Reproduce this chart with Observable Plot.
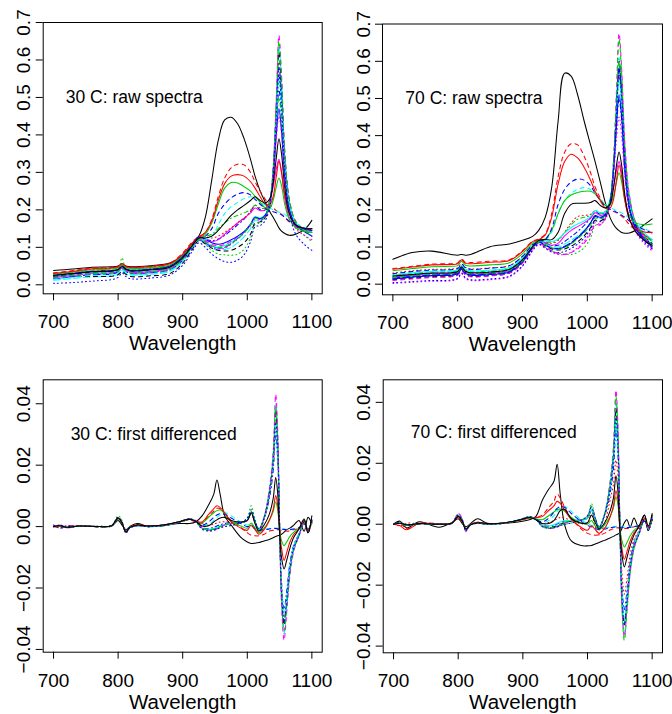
<!DOCTYPE html>
<html><head><meta charset="utf-8">
<script src="https://cdn.jsdelivr.net/npm/d3@7"></script>
<script src="https://cdn.jsdelivr.net/npm/@observablehq/plot@0.6"></script>
<style>
body{margin:0;background:#fff;}
#wrap{position:relative;width:672px;height:714px;background:#fff;font-family:"Liberation Sans",Arial,sans-serif;}
.panel{position:absolute;width:336px;height:357px;}
</style></head><body><div id="wrap"></div>
<script>
// ---------- shared axes / categories ----------
const xTicks = [700, 800, 900, 1000, 1100];
const yTicksRaw = [0, 0.1, 0.2, 0.3, 0.4, 0.5, 0.6, 0.7];
const yTicksDiff = [-0.04, -0.02, 0, 0.02, 0.04];
const panelNotes = ["30 C: raw spectra", "70 C: raw spectra", "30 C: first differenced", "70 C: first differenced"];
const noteWl = [825, 825, 855, 855];
const noteVal = [0.5, 0.5, 0.03, 0.03];

// wavelengths at which raw spectra were read
const wlRaw = [700,730,760,790,800,806,812,820,850,880,900,915,925,935,945,955,965,975,985,995,1005,1012,1020,1028,1035,1040,1045,1049,1053,1058,1065,1075,1090,1100];
// wavelengths at which differenced spectra were read
const wlDiff = [700,710,720,740,770,790,800,806,812,818,830,845,870,895,910,920,930,940,948,953,958,965,975,990,1000,1006,1012,1018,1026,1034,1040,1044,1047,1050,1053,1057,1061,1066,1072,1080,1088,1094,1100];

// ---------- 30 C raw spectra (sample number, values) ----------
const raw30Ids = [1,2,3,4,5,6,7,8,9,10,11,12,16,17,18,21,22,26,27,28,31];
const raw30 = [
[.038,.042,.047,.048,.050,.056,.050,.048,.051,.058,.080,.110,.130,.180,.280,.385,.440,.447,.430,.390,.335,.290,.250,.220,.195,.180,.165,.152,.143,.137,.132,.135,.150,.172],
[.032,.038,.045,.046,.048,.055,.048,.046,.050,.058,.085,.115,.128,.140,.175,.235,.285,.312,.322,.320,.300,.275,.250,.228,.212,.205,.198,.193,.188,.180,.168,.158,.150,.148],
[.020,.025,.030,.032,.038,.072,.042,.034,.036,.044,.070,.104,.122,.108,.092,.082,.080,.079,.082,.095,.125,.160,.165,.180,.218,.295,.460,.600,.510,.330,.215,.155,.130,.115],
[.024,.030,.035,.037,.041,.050,.042,.038,.041,.049,.075,.108,.126,.122,.118,.122,.132,.145,.160,.175,.195,.212,.200,.200,.228,.290,.420,.520,.450,.300,.205,.160,.145,.140],
[.012,.017,.021,.024,.028,.038,.030,.026,.028,.036,.062,.098,.118,.110,.098,.092,.094,.100,.112,.128,.150,.172,.170,.182,.222,.305,.480,.640,.545,.350,.225,.165,.140,.130],
[.020,.026,.031,.033,.037,.046,.038,.033,.036,.044,.070,.104,.124,.118,.115,.120,.135,.150,.165,.178,.192,.205,.198,.200,.225,.260,.310,.335,.300,.230,.180,.155,.145,.140],
[.022,.022,.022,.023,.027,.036,.028,.022,.024,.030,.058,.095,.118,.110,.098,.092,.090,.092,.100,.112,.135,.165,.168,.180,.220,.300,.470,.620,.530,.345,.225,.165,.142,.130],
[.030,.036,.042,.044,.047,.056,.048,.045,.048,.056,.080,.110,.128,.128,.125,.130,.140,.152,.165,.178,.195,.212,.205,.205,.228,.300,.450,.560,.490,.320,.210,.160,.145,.140],
[.026,.032,.037,.039,.042,.051,.044,.040,.043,.051,.077,.110,.127,.130,.135,.150,.165,.178,.185,.192,.200,.212,.205,.205,.225,.285,.410,.500,.440,.300,.210,.160,.145,.140],
[.016,.022,.027,.029,.034,.043,.035,.030,.032,.040,.066,.100,.120,.112,.102,.098,.100,.110,.124,.140,.162,.180,.175,.185,.222,.300,.470,.580,.500,.330,.215,.160,.140,.130],
[.022,.028,.033,.035,.039,.048,.040,.036,.039,.046,.072,.106,.124,.114,.104,.100,.105,.114,.126,.140,.162,.182,.178,.188,.225,.300,.450,.550,.480,.320,.215,.163,.145,.140],
[.018,.024,.029,.031,.035,.044,.037,.032,.034,.042,.068,.102,.122,.116,.108,.104,.108,.116,.128,.142,.162,.180,.175,.185,.225,.310,.500,.665,.560,.360,.230,.170,.145,.135],
[.026,.031,.036,.038,.041,.050,.043,.039,.042,.050,.076,.110,.128,.122,.112,.108,.112,.120,.130,.142,.160,.180,.176,.186,.222,.285,.400,.470,.410,.285,.200,.160,.148,.145],
[.015,.020,.025,.028,.032,.042,.034,.028,.030,.038,.065,.100,.120,.120,.130,.160,.190,.208,.220,.230,.235,.232,.222,.212,.205,.200,.196,.194,.192,.188,.178,.165,.152,.148],
[.020,.026,.030,.032,.036,.046,.037,.032,.034,.042,.068,.102,.120,.112,.100,.095,.098,.108,.122,.138,.158,.176,.172,.180,.215,.280,.390,.450,.400,.280,.195,.150,.130,.120],
[.028,.034,.040,.042,.045,.053,.046,.043,.046,.053,.078,.108,.122,.135,.165,.215,.258,.273,.272,.262,.250,.236,.220,.205,.205,.225,.262,.285,.265,.215,.175,.152,.142,.140],
[.022,.028,.034,.036,.040,.050,.042,.037,.040,.048,.075,.108,.125,.130,.150,.190,.215,.232,.242,.246,.240,.228,.215,.203,.198,.195,.192,.190,.187,.180,.170,.160,.150,.145],
[.030,.036,.043,.045,.048,.056,.049,.046,.049,.056,.082,.112,.126,.140,.170,.225,.270,.290,.294,.290,.275,.258,.235,.215,.215,.235,.290,.330,.300,.240,.190,.160,.150,.150],
[.020,.026,.030,.032,.037,.048,.038,.033,.035,.043,.069,.103,.122,.114,.104,.100,.102,.110,.122,.138,.160,.178,.174,.184,.224,.310,.495,.650,.550,.355,.228,.168,.143,.133],
[.004,.006,.010,.014,.020,.032,.022,.016,.018,.026,.052,.090,.112,.100,.082,.070,.062,.060,.066,.080,.115,.155,.158,.172,.210,.290,.450,.560,.480,.310,.195,.135,.105,.092],
[.025,.030,.035,.037,.040,.048,.041,.037,.040,.047,.072,.105,.125,.125,.130,.145,.165,.185,.200,.212,.225,.235,.225,.218,.230,.270,.340,.390,.350,.260,.190,.160,.150,.150]
];

// ---------- 70 C raw spectra ----------
const raw70Ids = [1,2,3,4,5,6,7,8,9,10,11,12,16,17,18,21,22,26,27,28,31];
const raw70 = [
[.067,.085,.089,.080,.078,.080,.078,.080,.101,.108,.118,.128,.145,.180,.260,.440,.568,.560,.510,.440,.375,.330,.275,.218,.180,.162,.150,.144,.139,.137,.138,.145,.163,.176],
[.042,.048,.054,.055,.057,.068,.058,.058,.062,.066,.090,.115,.122,.135,.190,.290,.355,.378,.375,.345,.300,.262,.232,.210,.200,.196,.192,.188,.183,.175,.160,.145,.130,.125],
[.014,.018,.022,.023,.027,.040,.028,.023,.025,.032,.060,.097,.112,.100,.090,.084,.081,.080,.086,.098,.125,.158,.160,.178,.220,.305,.460,.580,.505,.335,.215,.155,.120,.100],
[.020,.025,.029,.030,.033,.045,.034,.030,.032,.039,.064,.100,.116,.110,.104,.105,.115,.128,.142,.158,.178,.195,.188,.192,.222,.290,.420,.500,.440,.300,.200,.150,.120,.108],
[.016,.021,.025,.026,.030,.042,.031,.026,.028,.035,.062,.098,.114,.108,.102,.100,.108,.118,.130,.145,.165,.182,.178,.188,.225,.310,.480,.610,.530,.350,.225,.165,.130,.115],
[.018,.024,.028,.029,.032,.044,.033,.028,.030,.037,.062,.098,.115,.112,.105,.110,.130,.145,.155,.165,.178,.192,.185,.190,.215,.255,.305,.330,.300,.230,.175,.145,.130,.120],
[.012,.016,.020,.021,.025,.037,.026,.021,.023,.030,.058,.096,.112,.104,.095,.092,.095,.102,.114,.130,.152,.172,.170,.182,.222,.305,.470,.600,.520,.340,.220,.160,.125,.110],
[.030,.036,.040,.041,.044,.055,.045,.041,.044,.050,.075,.106,.118,.114,.110,.118,.140,.165,.182,.185,.188,.198,.192,.196,.228,.300,.455,.560,.490,.320,.210,.160,.130,.118],
[.024,.029,.033,.034,.037,.048,.038,.034,.036,.043,.068,.102,.116,.114,.112,.120,.138,.160,.175,.180,.185,.198,.190,.195,.228,.305,.470,.600,.520,.340,.220,.162,.130,.115],
[.016,.021,.025,.026,.030,.042,.031,.026,.028,.035,.062,.098,.114,.106,.098,.096,.102,.112,.126,.142,.164,.182,.178,.186,.222,.305,.465,.580,.505,.335,.215,.155,.120,.105],
[.026,.031,.035,.036,.039,.050,.040,.036,.038,.045,.070,.104,.118,.116,.115,.122,.138,.152,.162,.170,.182,.198,.192,.196,.228,.300,.450,.550,.480,.320,.215,.165,.135,.120],
[.010,.014,.018,.020,.024,.036,.025,.020,.022,.030,.058,.095,.112,.100,.090,.082,.080,.085,.095,.110,.135,.160,.160,.178,.220,.320,.520,.675,.580,.380,.240,.165,.120,.095],
[.014,.019,.023,.024,.028,.040,.029,.024,.026,.033,.060,.097,.113,.105,.097,.095,.100,.110,.125,.142,.165,.185,.180,.188,.222,.295,.430,.510,.450,.305,.205,.150,.115,.100],
[.022,.028,.032,.034,.037,.049,.039,.035,.037,.044,.070,.102,.114,.118,.140,.190,.225,.245,.255,.260,.255,.243,.228,.215,.207,.202,.198,.195,.192,.187,.177,.163,.148,.140],
[.002,.005,.008,.009,.014,.028,.015,.010,.012,.020,.048,.088,.106,.096,.086,.080,.080,.086,.098,.115,.140,.165,.162,.175,.212,.280,.390,.450,.400,.285,.195,.140,.105,.090],
[.036,.042,.047,.048,.050,.062,.051,.049,.052,.058,.082,.110,.118,.122,.145,.190,.225,.240,.247,.250,.250,.243,.228,.212,.212,.235,.275,.300,.275,.225,.185,.165,.160,.162],
[.028,.034,.038,.039,.042,.054,.044,.040,.043,.050,.075,.105,.115,.120,.150,.215,.255,.275,.283,.280,.265,.245,.225,.210,.202,.198,.194,.190,.186,.180,.170,.158,.145,.138],
[.040,.046,.052,.053,.055,.066,.056,.055,.059,.064,.088,.114,.120,.132,.180,.270,.330,.350,.340,.315,.280,.250,.225,.205,.205,.225,.280,.320,.290,.225,.175,.150,.140,.140],
[.018,.023,.027,.028,.032,.044,.033,.028,.030,.037,.063,.099,.114,.106,.098,.094,.098,.108,.122,.138,.160,.178,.175,.186,.225,.320,.510,.660,.565,.370,.235,.165,.125,.105],
[.004,.007,.010,.011,.016,.030,.017,.012,.014,.022,.050,.090,.108,.098,.088,.085,.088,.096,.108,.124,.148,.170,.168,.180,.220,.300,.460,.570,.500,.330,.210,.145,.110,.095],
[.022,.026,.030,.031,.034,.046,.035,.031,.033,.040,.066,.100,.118,.120,.120,.140,.190,.215,.218,.218,.220,.225,.212,.205,.215,.255,.320,.356,.320,.240,.175,.140,.115,.105]
];

// ---------- 30 C first differenced ----------
const diff30Ids = [1,2,3,4,5,7,8,11,12,17,21,22,26,27,28,31];
const diff30 = [
[0,.0004,-.0002,.0002,0,.0002,.002,.0005,-.001,0,.001,.0002,.0004,.001,.001,.0015,.0035,.007,.0105,.0152,.0105,.0035,.0005,-.0035,-.005,-.0055,-.0054,-.0052,-.0047,-.0042,-.0036,-.0032,-.003,-.0028,-.0025,-.0018,-.001,-.0005,.0005,.002,-.0015,.003,.001],
[0,-.0003,.0002,.0001,.0001,.0002,.0025,.001,-.0015,-.0002,.0006,.0002,.0005,.0015,.0022,.0015,.001,.0035,.005,.006,.0058,.0045,.002,-.0003,-.002,-.0028,-.003,-.003,-.0025,-.0015,-.0012,-.001,-.001,-.001,-.0012,-.0014,-.0015,-.0014,-.001,-.0005,.001,-.0015,.002],
[0,.0004,-.0002,.0002,0,.0003,.0035,.002,-.0022,-.0004,.0003,0,.0003,.0015,.0025,.0018,-.0008,-.0015,-.0012,-.0008,-.0003,0,.0003,.0012,.0028,.0068,.002,-.0008,.0028,.0105,.021,.036,.027,.001,-.021,-.031,-.024,-.0135,-.007,-.003,.0012,-.0015,.002],
[0,.0003,-.0002,.0002,0,.0003,.0027,.0012,-.0017,-.0003,.0003,0,.0003,.0015,.0024,.0017,-.0003,-.0006,-.0002,.0002,.0006,.001,.0013,.0015,.002,.0045,.0015,-.0012,.0025,.009,.018,.030,.022,.0005,-.018,-.027,-.021,-.012,-.006,-.0025,.0015,-.0015,.002],
[0,.0003,-.0002,.0002,0,.0003,.0028,.0013,-.0018,-.0004,.0003,0,.0003,.0015,.0024,.0018,-.0004,-.001,-.0009,-.0006,0,.0006,.0012,.0014,.0022,.0048,.0018,-.0008,.003,.0115,.023,.040,.030,.001,-.024,-.035,-.027,-.015,-.0075,-.003,.0012,-.0015,.0025],
[0,.0004,-.0002,.0001,0,.0002,.0025,.0012,-.0016,-.0003,.0004,0,.0003,.0014,.0023,.0017,-.0004,-.0009,-.0008,-.0005,0,.0005,.001,.0013,.002,.0042,.0015,-.0008,.0028,.011,.022,.038,.028,.001,-.022,-.032,-.025,-.014,-.007,-.0025,.002,-.002,.003],
[0,-.0004,.0003,.0002,0,.0003,.0028,.0012,-.0017,-.0003,.0004,.0001,.0004,.0016,.0024,.0017,.0002,.0004,.0008,.0012,.0015,.0016,.0014,.0013,.002,.0045,.0012,-.0018,.0025,.0098,.0195,.032,.024,.001,-.02,-.029,-.023,-.013,-.0065,-.0025,.002,-.002,.0025],
[0,.0003,-.0002,.0002,0,.0003,.0027,.0012,-.0017,-.0003,.0003,0,.0003,.0015,.0024,.0017,-.0005,-.0008,-.0006,-.0003,.0002,.0006,.0011,.0013,.0021,.0048,.0016,-.0009,.0028,.0105,.021,.033,.025,.001,-.02,-.029,-.023,-.013,-.0065,-.0025,.0012,-.0012,.0018],
[0,.0005,-.0003,.0002,0,.0003,.003,.0015,-.002,-.0005,.0003,0,.0003,.0015,.0025,.002,-.0005,-.0012,-.001,-.0008,-.0002,.0005,.001,.0012,.002,.0045,.0015,-.001,.003,.012,.024,.043,.032,.002,-.025,-.037,-.028,-.016,-.008,-.003,.001,-.002,.002],
[0,.0004,-.0003,.0002,0,.0003,.0027,.0012,-.0017,-.0003,.0004,.0002,.0005,.0016,.0025,.0018,.0002,.0008,.002,.003,.0038,.0045,.0035,.0015,.0005,.0008,-.0003,-.0008,-.0008,-.0006,-.0005,-.0005,-.0005,-.0006,-.0007,-.0008,-.0009,-.0009,-.0008,-.0004,.0012,-.001,.0018],
[0,.0002,-.0003,.0002,0,.0003,.0026,.0011,-.0016,-.0002,.0005,.0002,.0005,.0016,.0023,.0018,.0012,.003,.0045,.0052,.0055,.0042,.0018,.0002,-.0005,.0012,-.0005,-.002,-.0005,.002,.0048,.008,.0055,-.001,-.0045,-.0062,-.005,-.0032,-.0018,-.0005,.001,-.0008,.0015],
[.0005,-.0005,0,.0002,0,.0003,.0028,.0012,-.0018,-.0003,.0004,.0002,.0005,.0016,.0025,.0018,.0005,.0015,.003,.0038,.0042,.004,.0028,.001,0,.0003,-.0008,-.0012,-.001,-.0008,-.0006,-.0006,-.0007,-.0008,-.0008,-.0009,-.001,-.001,-.0008,-.0004,.001,-.0012,.0015],
[0,.0003,-.0004,.0002,0,.0003,.0028,.0012,-.0018,-.0003,.0006,.0002,.0005,.0016,.0024,.0018,.0015,.004,.0058,.0068,.0062,.0045,.0015,-.0005,-.0012,.0005,-.001,-.0025,-.001,.002,.0055,.0101,.007,-.001,-.007,-.011,-.0085,-.005,-.0025,-.0008,.0015,-.001,.002],
[0,.0002,-.0003,.0002,0,.0003,.0027,.0012,-.0017,-.0003,.0003,0,.0003,.0015,.0024,.0017,-.0004,-.001,-.0008,-.0005,0,.0006,.0011,.0014,.0021,.005,.0016,-.0008,.003,.0112,.0225,.039,.029,.001,-.023,-.034,-.026,-.015,-.0075,-.003,.0015,-.0018,.002],
[0,.0005,-.0002,.0002,.0001,.0004,.003,.0015,-.002,-.0004,.0003,0,.0003,.0015,.0025,.0018,-.0008,-.0014,-.0012,-.0008,-.0004,0,.0004,.0013,.0028,.0055,.002,-.0008,.0028,.0105,.021,.034,.026,.001,-.021,-.031,-.024,-.0135,-.007,-.003,.0015,-.002,.0018],
[0,.0003,-.0002,.0002,0,.0003,.0028,.0012,-.0017,-.0003,.0005,.0002,.0005,.0016,.0024,.0017,.0002,.0003,.0015,.0022,.0028,.003,.002,.0015,.002,.0045,.001,-.0015,.0005,.004,.009,.016,.011,-.002,-.01,-.0138,-.011,-.007,-.0035,-.0008,.0025,-.002,.0035]
];

// ---------- 70 C first differenced ----------
const diff70Ids = [1,2,3,4,5,7,8,11,12,17,21,22,26,27,28,31];
const diff70 = [
[0,.001,-.0012,.0008,-.001,.0005,.0018,.0003,-.0008,0,.0018,.0003,.0003,.0008,.0015,.0025,.0078,.0115,.014,.0197,.0095,-.0005,-.0055,-.007,-.0071,-.007,-.0065,-.006,-.0053,-.0046,-.004,-.0035,-.0032,-.0028,-.0015,.0005,.0015,-.001,.002,-.0015,.003,-.002,.002],
[0,.0005,-.0015,.0003,.0002,.0003,.0022,.0008,-.0015,-.0002,.0006,.0002,.0004,.0012,.002,.0022,.003,.0055,.0075,.0099,.0085,.0055,.002,-.0015,-.003,-.0034,-.0036,-.0035,-.003,-.002,-.0015,-.0012,-.0012,-.0013,-.0013,-.0014,-.0014,-.0012,-.0008,-.0004,.0012,-.001,.0015],
[0,.0004,-.0002,.0002,0,.0003,.0034,.0018,-.0022,-.0004,.0003,0,.0003,.0014,.0024,.0017,-.0008,-.0014,-.0012,-.0008,-.0003,0,.0004,.0013,.0028,.0068,.002,-.0012,.0028,.0105,.021,.037,.027,.001,-.022,-.032,-.025,-.014,-.007,-.003,.0012,-.0015,.002],
[0,.0003,-.0002,.0002,0,.0003,.0027,.0012,-.0017,-.0003,.0003,0,.0003,.0014,.0023,.0016,-.0003,-.0006,-.0003,.0001,.0006,.001,.0013,.0015,.002,.0045,.0015,-.0012,.0025,.009,.018,.031,.023,.0005,-.019,-.028,-.022,-.0125,-.006,-.0025,.0015,-.0015,.002],
[0,.0004,-.0002,.0002,0,.0003,.003,.0015,-.002,-.0004,.0003,0,.0003,.0014,.0024,.0017,-.0005,-.001,-.0009,-.0006,0,.0007,.0012,.0014,.0022,.005,.0018,-.0009,.003,.0115,.023,.041,.03,.001,-.024,-.036,-.027,-.015,-.0075,-.003,.0013,-.0015,.0025],
[0,.0005,-.0003,.0001,0,.0002,.0025,.0012,-.0016,-.0003,.0004,0,.0003,.0014,.0023,.0016,-.0004,-.0009,-.0008,-.0005,0,.0005,.001,.0013,.002,.0044,.0015,-.0009,.0028,.0108,.0218,.038,.028,.001,-.022,-.033,-.025,-.014,-.007,-.0025,.002,-.002,.003],
[0,-.0005,.0003,.0002,0,.0003,.0028,.0012,-.0017,-.0003,.0004,.0001,.0004,.0015,.0023,.0016,.0002,.0006,.0012,.0018,.0022,.002,.0012,.0002,.0002,.003,-.0008,-.0035,0,.007,.013,.021,.016,.0005,-.015,-.023,-.018,-.01,-.005,-.002,.002,-.002,.0025],
[0,.0003,-.0002,.0002,0,.0003,.0027,.0012,-.0017,-.0003,.0003,0,.0003,.0015,.0024,.0017,-.0004,-.0006,-.0002,.0003,.0008,.0012,.0012,.0012,.002,.0048,.0016,-.0009,.0028,.0105,.021,.034,.025,.001,-.021,-.031,-.024,-.0135,-.0065,-.0025,.0012,-.0012,.0018],
[0,.0005,-.0004,.0002,0,.0003,.0035,.002,-.0025,-.0005,.0003,0,.0003,.0014,.0024,.0018,-.0006,-.0013,-.0012,-.001,-.0004,.0004,.001,.0013,.0025,.0058,.002,-.0012,.003,.0125,.025,.044,.033,.002,-.026,-.037,-.028,-.016,-.008,-.003,.0015,-.0015,.002],
[0,.0003,-.0002,.0002,0,.0003,.0027,.0012,-.0017,-.0003,.0004,.0002,.0004,.0014,.0022,.0016,.0005,.0012,.0028,.0042,.0052,.0058,.0042,.0015,.0002,-.0003,-.0008,-.0012,-.0012,-.001,-.0008,-.0007,-.0007,-.0008,-.0009,-.001,-.001,-.0009,-.0007,-.0003,.0012,-.0008,.0018],
[0,.0003,-.0003,.0002,0,.0003,.0026,.0011,-.0016,-.0002,.0005,.0002,.0004,.0013,.002,.0018,.0015,.0028,.004,.0048,.005,.0042,.0022,.0005,0,.0012,-.0006,-.0018,-.0003,.0022,.0052,.009,.0065,-.0008,-.0052,-.0075,-.006,-.0038,-.002,-.0005,.0015,-.0008,.0012],
[0,.0004,-.0003,.0002,0,.0003,.0028,.0012,-.0018,-.0003,.0004,.0002,.0004,.0014,.0022,.0016,.0008,.002,.004,.0052,.0058,.0055,.0035,.001,-.0004,-.0008,-.0015,-.0018,-.0016,-.0012,-.001,-.0009,-.0009,-.001,-.001,-.0011,-.0011,-.001,-.0008,-.0004,.001,-.001,.0015],
[0,-.0005,-.0018,.0003,.0001,.0003,.0024,.001,-.0016,-.0002,.0006,.0002,.0004,.0013,.0021,.0022,.0025,.0045,.006,.0075,.0068,.0045,.0015,-.001,-.002,-.0005,-.0018,-.003,-.0015,.0018,.006,.011,.008,-.001,-.0075,-.0115,-.009,-.0055,-.0028,-.0008,.0018,-.001,.0015],
[0,.0003,-.0003,.0002,0,.0003,.0028,.0013,-.0017,-.0003,.0003,0,.0003,.0014,.0024,.0017,-.0005,-.0011,-.001,-.0007,-.0001,.0006,.0011,.0014,.0024,.006,.0018,-.0012,.003,.012,.024,.042,.031,.001,-.026,-.0382,-.029,-.016,-.008,-.003,.0015,-.0018,.0022],
[0,.0005,-.0002,.0002,.0001,.0004,.003,.0015,-.0022,-.0004,.0003,0,.0003,.0015,.0025,.0018,-.0008,-.0013,-.0012,-.0008,-.0004,0,.0004,.0013,.0028,.0055,.002,-.0009,.0028,.0105,.021,.035,.026,.001,-.022,-.033,-.025,-.014,-.007,-.003,.0015,-.002,.0018],
[0,.0003,-.0002,.0002,0,.0003,.0026,.0011,-.0016,-.0003,.0005,.0002,.0004,.0014,.0022,.0015,.0002,.0002,.0012,.0028,.0045,.0048,.0018,.0003,.0005,.003,.0005,-.0015,.0003,.0038,.0085,.0159,.011,-.002,-.0095,-.014,-.011,-.007,-.0035,-.0005,.003,-.0005,.0035]
];

// ---------- R matplot style cycle ----------
const rCols = ["#000000", "#FF0000", "#00CD00", "#0000FF", "#00FFFF", "#FF00FF"];
const rLty = [null, "4,4", "1,3", "1,3,4,3", "7,3"];

function panel(cfg) {
  const series = cfg.ids.map((k, i) => ({k, rows: cfg.mat[i].map((v, j) => ({wl: cfg.wl[j], v}))}));
  const lines = series.map(s => Plot.line(s.rows, {
    x: "wl", y: "v", stroke: rCols[(s.k - 1) % 6],
    strokeDasharray: rLty[(s.k - 1) % 5] || undefined,
    strokeWidth: 1.05, curve: "catmull-rom"
  }));
  return Plot.plot({
    width: 336, height: 357,
    marginLeft: cfg.m[0], marginRight: cfg.m[1], marginTop: cfg.m[2], marginBottom: cfg.m[3],
    x: {domain: [684, 1116]},
    y: {domain: cfg.yDomain},
    style: {background: "#fff", color: "#000", fontFamily: "'Liberation Sans', Arial, sans-serif", overflow: "visible"},
    marks: [
      ...lines,
      Plot.frame({stroke: "#000", strokeWidth: 1}),
      Plot.axisX({ticks: xTicks, tickSize: 7, tickPadding: 14, fontSize: 19, label: null, tickFormat: d3.format("d")}),
      Plot.axisY({ticks: cfg.yTicks, tickSize: 7, tickRotate: -90, tickPadding: 6, fontSize: 19, label: null, tickFormat: cfg.fmt}),
      Plot.text(["Wavelength"], {text: d => d, frameAnchor: "bottom", lineAnchor: "middle", dy: 50, fontSize: 20.5}),
      Plot.text([cfg.note], {x: [cfg.nx], y: [cfg.ny], text: d => d, fontSize: 17.5})
    ]
  });
}

const wrap = document.getElementById("wrap");
const cfgs = [
  {left: 0, top: 0, wl: wlRaw, ids: raw30Ids, mat: raw30, yDomain: [-0.024, 0.700], yTicks: yTicksRaw, fmt: d3.format(".1f"), m: [42.7, 14.3, 22, 63.7], note: panelNotes[0], nx: noteWl[0], ny: noteVal[0]},
  {left: 336, top: 0, wl: wlRaw, ids: raw70Ids, mat: raw70, yDomain: [-0.0286, 0.7005], yTicks: yTicksRaw, fmt: d3.format(".1f"), m: [46, 10, 23.5, 62.7], note: panelNotes[1], nx: noteWl[1], ny: noteVal[1]},
  {left: 0, top: 357, wl: wlDiff, ids: diff30Ids, mat: diff30, yDomain: [-0.0409, 0.0478], yTicks: yTicksDiff, fmt: d3.format(".2f"), m: [42.7, 14.3, 22.3, 62.3], note: panelNotes[2], nx: noteWl[2], ny: noteVal[2]},
  {left: 336, top: 357, wl: wlDiff, ids: diff70Ids, mat: diff70, yDomain: [-0.0422, 0.0474], yTicks: yTicksDiff, fmt: d3.format(".2f"), m: [46.7, 10, 22.3, 61.7], note: panelNotes[3], nx: noteWl[3], ny: noteVal[3]}
];
for (const c of cfgs) {
  const div = document.createElement("div");
  div.className = "panel";
  div.style.left = c.left + "px";
  div.style.top = c.top + "px";
  div.appendChild(panel(c));
  wrap.appendChild(div);
}
</script></body></html>
